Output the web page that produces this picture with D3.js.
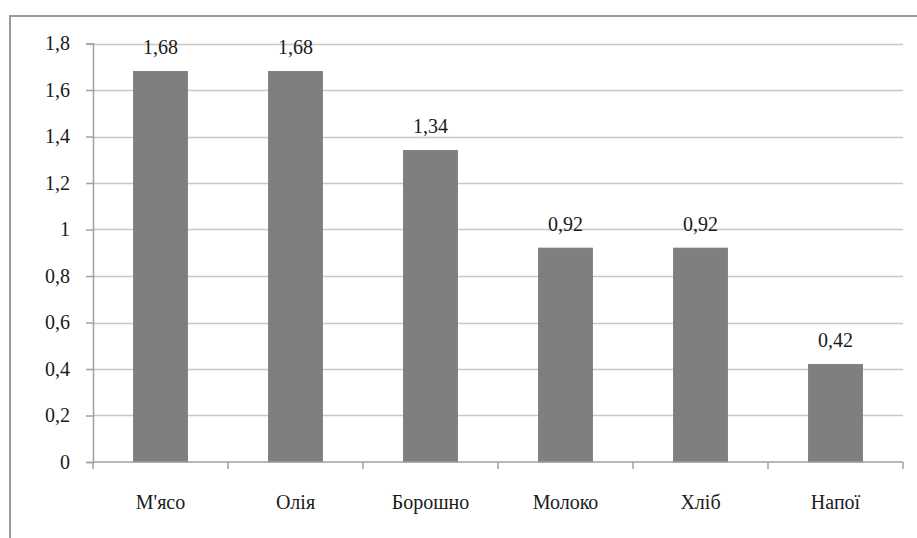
<!DOCTYPE html>
<html>
<head>
<meta charset="utf-8">
<script src="https://cdn.jsdelivr.net/npm/d3@7"></script>
</head>
<body style="margin:0; background:#fff">
<svg id="chart" width="917" height="538" style="display:block"></svg>
<script>
// Product categories and their values
const categories = ["М'ясо", "Олія", "Борошно", "Молоко", "Хліб", "Напої"];
const values = [1.68, 1.68, 1.34, 0.92, 0.92, 0.42];
const yTicks = [0, 0.2, 0.4, 0.6, 0.8, 1, 1.2, 1.4, 1.6, 1.8];

const FONT = "Liberation Serif";
const FS = 20;
const INK = "#1a1a1a";

const svg = d3.select("#chart");
const W = 917, H = 538;
const margin = { left: 93, right: 14, top: 43.5, bottom: 76 };

const fmt = v => String(+v.toFixed(2)).replace(".", ",");

// Apply the serif label style to a text selection
const serif = sel => sel
  .attr("font-family", FONT)
  .attr("font-size", FS)
  .attr("fill", INK)
  .style("font-family", FONT)
  .style("font-size", FS + "px");

// Outer frame (runs off the right and bottom edges)
svg.append("rect")
  .attr("x", 10).attr("y", 16)
  .attr("width", W).attr("height", H)
  .attr("fill", "none")
  .attr("stroke", "#9a9a9a")
  .attr("stroke-width", 2);

const x = d3.scaleBand()
  .domain(categories)
  .range([margin.left, W - margin.right])
  .paddingInner(0.6)
  .paddingOuter(0.3);

const y = d3.scaleLinear()
  .domain([0, 1.8])
  .range([H - margin.bottom, margin.top]);

// Horizontal gridlines
svg.append("g")
  .selectAll("line")
  .data(yTicks.filter(t => t > 0))
  .join("line")
  .attr("x1", margin.left).attr("x2", W - margin.right)
  .attr("y1", d => Math.round(y(d)) + 0.5)
  .attr("y2", d => Math.round(y(d)) + 0.5)
  .attr("stroke", "#c8c8c8")
  .attr("stroke-width", 1.5);

// Y axis
const yAxis = svg.append("g")
  .attr("transform", `translate(${margin.left},0)`)
  .call(d3.axisLeft(y).tickValues(yTicks).tickSize(7).tickPadding(16).tickFormat(fmt));
yAxis.attr("font-family", FONT).attr("font-size", FS);
yAxis.select(".domain").attr("stroke", "#a0a0a0").attr("stroke-width", 1.5);
yAxis.selectAll(".tick line").attr("stroke", "#a0a0a0").attr("stroke-width", 1.5);
yAxis.selectAll(".tick text").call(serif);

// Bars
svg.append("g")
  .selectAll("rect")
  .data(values)
  .join("rect")
  .attr("x", (d, i) => x(categories[i]))
  .attr("y", d => y(d))
  .attr("width", x.bandwidth())
  .attr("height", d => y(0) - y(d))
  .attr("fill", "#7f7f7f")
  .attr("stroke", "#777")
  .attr("stroke-width", 0.8);

// X axis with ticks at band boundaries
const boundaries = d3.range(categories.length + 1).map(i => margin.left + i * (W - margin.left - margin.right) / categories.length);
const xAxisG = svg.append("g");
xAxisG.append("line")
  .attr("x1", margin.left).attr("x2", W - margin.right)
  .attr("y1", y(0)).attr("y2", y(0))
  .attr("stroke", "#a0a0a0").attr("stroke-width", 1.5);
xAxisG.selectAll("line.tk")
  .data(boundaries)
  .join("line")
  .attr("class", "tk")
  .attr("x1", d => d).attr("x2", d => d)
  .attr("y1", y(0)).attr("y2", y(0) + 7)
  .attr("stroke", "#a0a0a0").attr("stroke-width", 1.5);
xAxisG.selectAll("text")
  .data(categories)
  .join("text")
  .attr("x", d => x(d) + x.bandwidth() / 2)
  .attr("y", y(0) + 47)
  .attr("text-anchor", "middle")
  .call(serif)
  .text(d => d);

// Value labels
svg.append("g")
  .selectAll("text")
  .data(values)
  .join("text")
  .attr("x", (d, i) => x(categories[i]) + x.bandwidth() / 2)
  .attr("y", d => y(d) - 17)
  .attr("text-anchor", "middle")
  .call(serif)
  .text(d => fmt(d));
</script>
</body>
</html>
